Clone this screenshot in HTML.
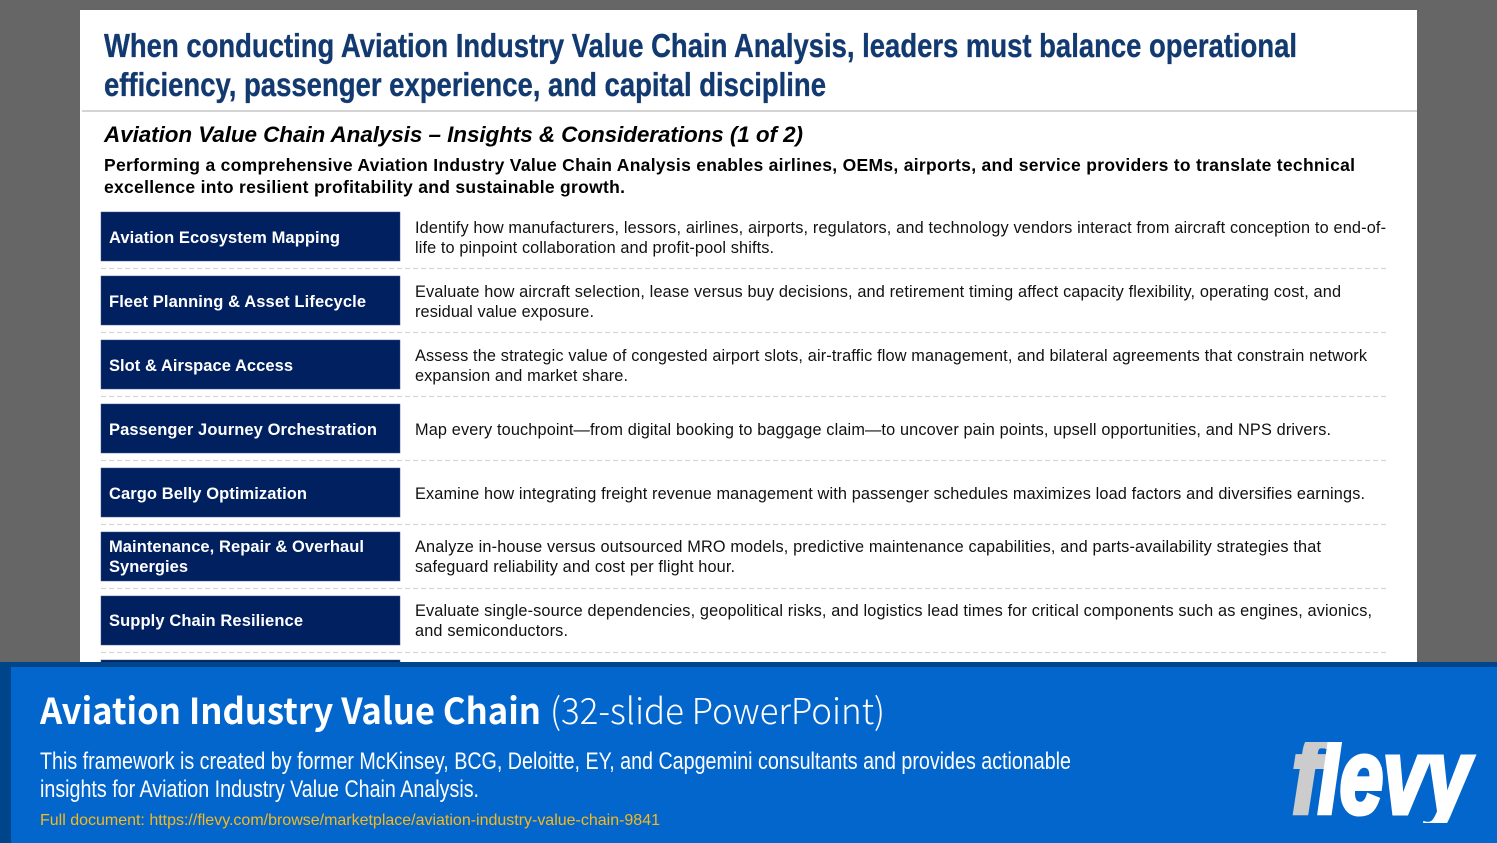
<!DOCTYPE html>
<html lang="en">
<head>
<meta charset="utf-8">
<title>Aviation Industry Value Chain</title>
<style>
html,body{margin:0;padding:0;width:1497px;height:843px;overflow:hidden;background:#666}
svg{display:block;font-family:"Liberation Sans",Arial,sans-serif}
.t{font-weight:700;font-size:33.5px;fill:#123a70;stroke:#123a70;stroke-width:.35}
.sub{font-weight:700;font-style:italic;font-size:22.5px;fill:#000}
.intro{font-weight:700;font-size:17.5px;fill:#000}
.box{fill:#002060;stroke:#3a5288;stroke-width:.5}
.lab{font-weight:700;font-size:16.5px;fill:#fff}
.d{font-size:16.3px;fill:#111}
.sep{stroke:#d6d6d6;stroke-width:1.2;stroke-dasharray:5 3}
.ft{font-family:"Noto Sans CJK SC","Liberation Sans",sans-serif;font-size:36px;font-weight:700;fill:#fff}
.fl{font-family:"Noto Sans CJK SC","Liberation Sans",sans-serif;font-size:36px;font-weight:300;fill:#fff}
.fb{font-size:24.5px;fill:#fff}
.link{font-size:16px;fill:#f5b91e}
.logo{font-weight:700;font-style:italic;font-size:106px;stroke-width:5}
</style>
</head>
<body>
<svg width="1497" height="843" viewBox="0 0 1497 843">
<defs><clipPath id="logo-clip"><rect x="1280" y="742" width="210" height="81"/></clipPath></defs>
<rect x="0" y="0" width="1497" height="843" fill="#666666"/>
<rect x="80" y="10" width="1337" height="660" fill="#ffffff"/>

<text class="t" x="104" y="57" textLength="1193" lengthAdjust="spacingAndGlyphs">When conducting Aviation Industry Value Chain Analysis, leaders must balance operational</text>
<text class="t" x="104" y="96" textLength="722" lengthAdjust="spacingAndGlyphs">efficiency, passenger experience, and capital discipline</text>
<rect x="82" y="110" width="1335" height="2" fill="#d4d4d4"/>

<text class="sub" x="104" y="142" textLength="699" lengthAdjust="spacing">Aviation Value Chain Analysis – Insights &amp; Considerations (1 of 2)</text>
<text class="intro" x="104" y="171" textLength="1251" lengthAdjust="spacing">Performing a comprehensive Aviation Industry Value Chain Analysis enables airlines, OEMs, airports, and service providers to translate technical</text>
<text class="intro" x="104" y="193" textLength="521" lengthAdjust="spacing">excellence into resilient profitability and sustainable growth.</text>

<g>
<rect class="box" x="101" y="212" width="299" height="49"/>
<text class="lab" x="109" y="243" textLength="231" lengthAdjust="spacing">Aviation Ecosystem Mapping</text>
<text class="d" x="415" y="233" textLength="971" lengthAdjust="spacing">Identify how manufacturers, lessors, airlines, airports, regulators, and technology vendors interact from aircraft conception to end-of-</text>
<text class="d" x="415" y="253" textLength="359" lengthAdjust="spacing">life to pinpoint collaboration and profit-pool shifts.</text>
<line class="sep" x1="101" y1="268.5" x2="1386" y2="268.5"/>
</g>

<g>
<rect class="box" x="101" y="276" width="299" height="49"/>
<text class="lab" x="109" y="307" textLength="257" lengthAdjust="spacing">Fleet Planning &amp; Asset Lifecycle</text>
<text class="d" x="415" y="297" textLength="926" lengthAdjust="spacing">Evaluate how aircraft selection, lease versus buy decisions, and retirement timing affect capacity flexibility, operating cost, and</text>
<text class="d" x="415" y="317" textLength="179" lengthAdjust="spacing">residual value exposure.</text>
<line class="sep" x1="101" y1="332.5" x2="1386" y2="332.5"/>
</g>

<g>
<rect class="box" x="101" y="340" width="299" height="49"/>
<text class="lab" x="109" y="371" textLength="184" lengthAdjust="spacing">Slot &amp; Airspace Access</text>
<text class="d" x="415" y="361" textLength="952" lengthAdjust="spacing">Assess the strategic value of congested airport slots, air-traffic flow management, and bilateral agreements that constrain network</text>
<text class="d" x="415" y="381" textLength="213" lengthAdjust="spacing">expansion and market share.</text>
<line class="sep" x1="101" y1="396.5" x2="1386" y2="396.5"/>
</g>

<g>
<rect class="box" x="101" y="404" width="299" height="49"/>
<text class="lab" x="109" y="435" textLength="268" lengthAdjust="spacing">Passenger Journey Orchestration</text>
<text class="d" x="415" y="435" textLength="916" lengthAdjust="spacing">Map every touchpoint—from digital booking to baggage claim—to uncover pain points, upsell opportunities, and NPS drivers.</text>
<line class="sep" x1="101" y1="460.5" x2="1386" y2="460.5"/>
</g>

<g>
<rect class="box" x="101" y="468" width="299" height="49"/>
<text class="lab" x="109" y="499" textLength="198" lengthAdjust="spacing">Cargo Belly Optimization</text>
<text class="d" x="415" y="499" textLength="950" lengthAdjust="spacing">Examine how integrating freight revenue management with passenger schedules maximizes load factors and diversifies earnings.</text>
<line class="sep" x1="101" y1="524.5" x2="1386" y2="524.5"/>
</g>

<g>
<rect class="box" x="101" y="532" width="299" height="49"/>
<text class="lab" x="109" y="552" textLength="255" lengthAdjust="spacing">Maintenance, Repair &amp; Overhaul</text>
<text class="lab" x="109" y="572" textLength="79" lengthAdjust="spacing">Synergies</text>
<text class="d" x="415" y="552" textLength="906" lengthAdjust="spacing">Analyze in-house versus outsourced MRO models, predictive maintenance capabilities, and parts-availability strategies that</text>
<text class="d" x="415" y="572" textLength="320" lengthAdjust="spacing">safeguard reliability and cost per flight hour.</text>
<line class="sep" x1="101" y1="588.5" x2="1386" y2="588.5"/>
</g>

<g>
<rect class="box" x="101" y="596" width="299" height="49"/>
<text class="lab" x="109" y="626" textLength="194" lengthAdjust="spacing">Supply Chain Resilience</text>
<text class="d" x="415" y="616" textLength="957" lengthAdjust="spacing">Evaluate single-source dependencies, geopolitical risks, and logistics lead times for critical components such as engines, avionics,</text>
<text class="d" x="415" y="636" textLength="153" lengthAdjust="spacing">and semiconductors.</text>
<line class="sep" x1="101" y1="652.5" x2="1386" y2="652.5"/>
</g>

<rect class="box" x="101" y="660" width="299" height="10"/>

<g>
<rect x="0" y="662" width="1497" height="181" fill="#004489"/>
<rect x="11" y="667" width="1486" height="176" fill="#0366cc"/>
<text class="ft" x="40" y="724" textLength="501" lengthAdjust="spacingAndGlyphs">Aviation Industry Value Chain</text>
<text class="fl" x="550" y="724" textLength="335" lengthAdjust="spacingAndGlyphs">(32-slide PowerPoint)</text>
<text class="fb" x="40" y="769" textLength="1031" lengthAdjust="spacingAndGlyphs">This framework is created by former McKinsey, BCG, Deloitte, EY, and Capgemini consultants and provides actionable</text>
<text class="fb" x="40" y="797" textLength="439" lengthAdjust="spacingAndGlyphs">insights for Aviation Industry Value Chain Analysis.</text>
<text class="link" x="40" y="825" textLength="620" lengthAdjust="spacing">Full document: https://flevy.com/browse/marketplace/aviation-industry-value-chain-9841</text>
<g clip-path="url(#logo-clip)">
<text class="logo" x="1292" y="813" fill="#cccccc" stroke="#cccccc" textLength="28" lengthAdjust="spacingAndGlyphs">f</text>
<text class="logo" x="1318" y="813" fill="#ffffff" stroke="#ffffff" textLength="152" lengthAdjust="spacingAndGlyphs">levy</text>
</g>
</g>
</svg>
</body>
</html>
